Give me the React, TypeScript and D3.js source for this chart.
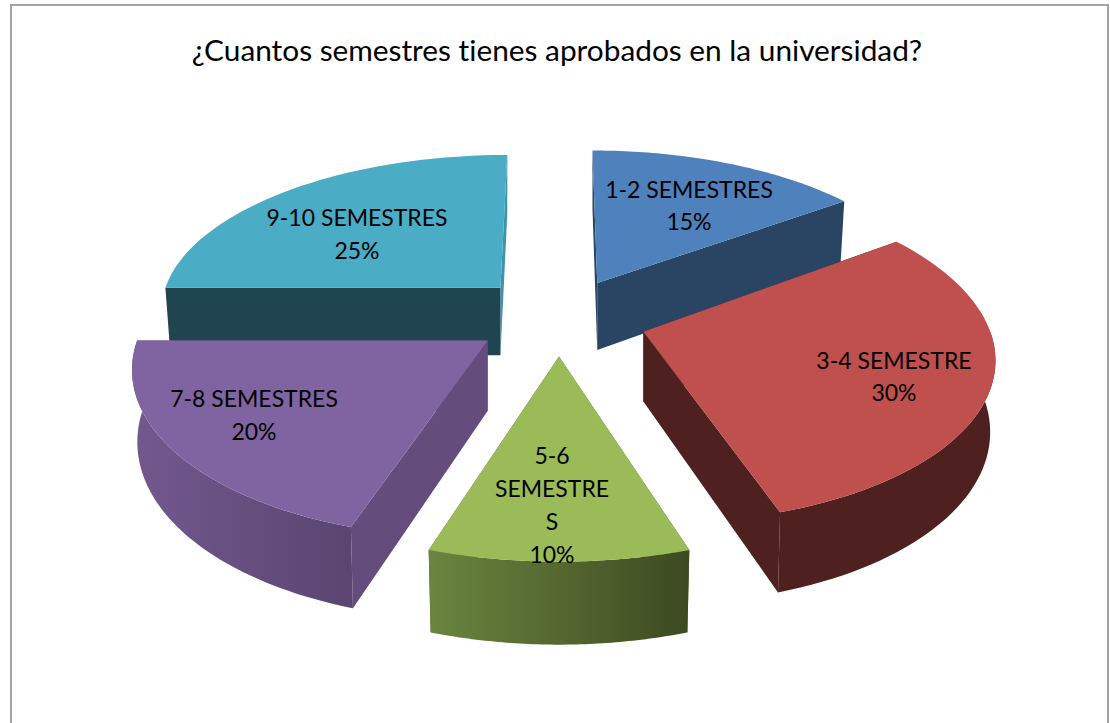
import React from "react";
import * as d3 from "d3";

const categories = ["1-2 SEMESTRES", "3-4 SEMESTRE", "5-6 SEMESTRES", "7-8 SEMESTRES", "9-10 SEMESTRES"];
const percents = [15, 30, 10, 20, 25];
const title = "¿Cuantos semestres tienes aprobados en la universidad?";
const topColors = ["#4f81bd", "#c0504d", "#9bbb59", "#8064a2", "#4bacc6"];
const startFaceColors = ["#2a4563", "#4e201f", "#5a7232", "#644d7c", "#1f4650"];
const endFaceColors = ["#2a4563", "#4e201f", "#5a7232", "#644d7c", "#3e93aa"];
const wallLeft = ["#2a4563", "#4e201f", "#6b853f", "#73588f", "#1f4650"];
const wallRight = ["#2a4563", "#4e201f", "#3c4a20", "#5a4570", "#1f4650"];
const labelLines = [["1-2 SEMESTRES"], ["3-4 SEMESTRE"], ["5-6", "SEMESTRE", "S"], ["7-8 SEMESTRES"], ["9-10 SEMESTRES"]];
const labelAnchors = [[689, 214], [894, 385], [552, 513.5], [254, 423.5], [357, 242.5]];
const explode = [0.28, 0.28, 0.25, 0.28, 0.26];
const nudgeX = [-3, -7, 1, 9, 4];
const nudgeY = [1, -2, -4, -6, -4];
const radU = [1, 1, 1.03, 1, 1];
const radV = [1.015, 1.03, 1.05, 1.04, 1];

const CX = 558, CY = 320, RX = 343, RY = 157, K = 0.13, H = 69, SHRINK = 0.985;

const pie = d3.pie<number>().sort(null).startAngle(0).endAngle(2 * Math.PI);
const line = d3.line<[number, number]>();

function project(wx: number, wv: number, z: number, nx: number, ny: number): [number, number] {
  const s = 1 / (1 - K * wv);
  return [CX + nx + wx * RX * s, CY + ny + RY * wv * s + z * H * s];
}

export default function App() {
  const arcs = pie(percents);
  const slices = arcs.map((a, i) => {
    const mid = (a.startAngle + a.endAngle) / 2;
    const e = explode[i];
    const ox = e * Math.sin(mid), ov = -e * Math.cos(mid);
    const apex = project(ox, ov, 0, nudgeX[i], nudgeY[i]);
    const P = (ang: number, r: number, z: number): [number, number] => {
      const p = project(ox + r * radU[i] * Math.sin(ang), ov - r * radV[i] * Math.cos(ang), z, nudgeX[i], nudgeY[i]);
      return [z ? apex[0] + (p[0] - apex[0]) * SHRINK : p[0], p[1]];
    };
    const angs = d3.range(0, 61).map((t) => a.startAngle + ((a.endAngle - a.startAngle) * t) / 60);
    const top = [P(0, 0, 0), ...angs.map((g) => P(g, 1, 0))];
    const face = (g: number) => [P(g, 0, 0), P(g, 1, 0), P(g, 1, 1), P(g, 0, 1)];
    const fr = angs.filter((g) => g >= Math.PI / 2 - 0.02 && g <= 1.5 * Math.PI + 0.02);
    const wall = fr.length > 1 ? [...fr.map((g) => P(g, 1, 0)), ...fr.slice().reverse().map((g) => P(g, 1, 1))] : null;
    const xs = wall ? wall.map((p) => p[0]) : [0, 1];
    return { i, top, f0: face(a.startAngle), f1: face(a.endAngle), wall, x0: d3.min(xs)!, x1: d3.max(xs)! };
  });
  const order = [4, 0, 3, 1, 2];
  const font = "Lato, 'Open Sans', sans-serif";
  return (
    <svg width={1110} height={723} style={{ position: "absolute", left: 0, top: 0, background: "#fff", fontVariantLigatures: "none" }} fontFamily={font}>
      <defs>
        {slices.map((s) => (
          <linearGradient key={s.i} id={`w${s.i}`} gradientUnits="userSpaceOnUse" x1={s.x0} x2={s.x1} y1={0} y2={0}>
            <stop offset="0" stopColor={wallLeft[s.i]} />
            <stop offset="1" stopColor={wallRight[s.i]} />
          </linearGradient>
        ))}
      </defs>
      <rect x={11} y={5} width={1097} height={725} fill="#fff" stroke="#a3a3a3" strokeWidth={2} />
      <text x={557} y={61} textAnchor="middle" fontSize={29.8} fill="#000">{title}</text>
      {order.map((idx) => {
        const s = slices[idx];
        return (
          <g key={idx}>
            <path d={line(s.f1 as any)! + "Z"} fill={endFaceColors[idx]} />
            <path d={line(s.f0 as any)! + "Z"} fill={startFaceColors[idx]} />
            {s.wall && <path d={line(s.wall as any)! + "Z"} fill={`url(#w${idx})`} />}
            <path d={line(s.top as any)! + "Z"} fill={topColors[idx]} />
          </g>
        );
      })}
      {labelLines.map((ls, i) => {
        const all = [...ls, `${percents[i]}%`];
        const [lx, ly] = labelAnchors[i];
        return (
          <text key={categories[i]} textAnchor="middle" fontSize={23} fill="#000">
            {all.map((t, j) => (
              <tspan key={j} x={lx} y={ly + (j - (all.length - 1) / 2) * 32.8}>{t}</tspan>
            ))}
          </text>
        );
      })}
    </svg>
  );
}
